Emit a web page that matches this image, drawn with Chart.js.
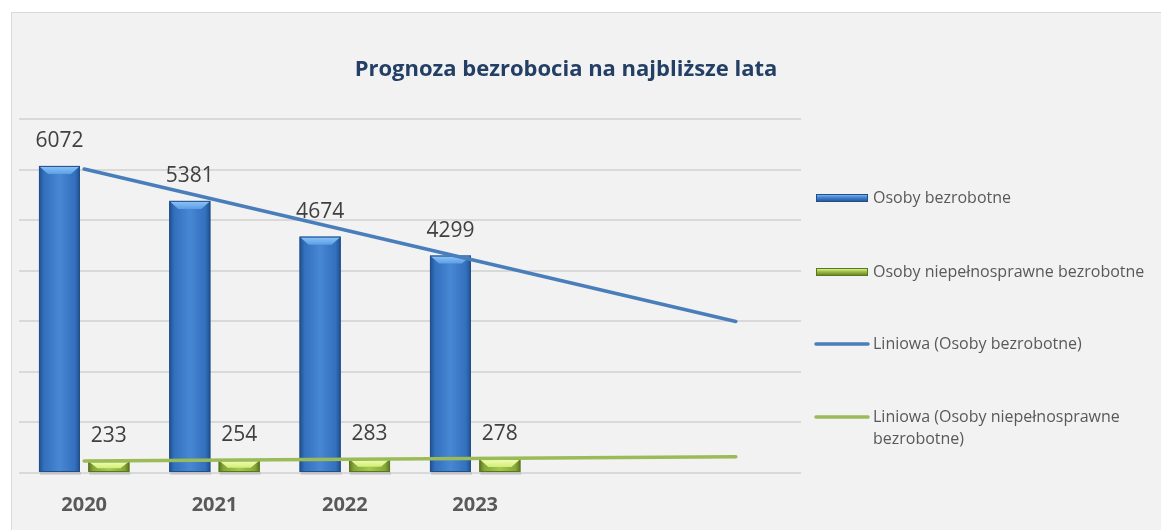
<!DOCTYPE html>
<html><head><meta charset="utf-8">
<script src="https://cdn.jsdelivr.net/npm/chart.js@4.4.0/dist/chart.umd.min.js"></script>
<style>
html,body{margin:0;padding:0;background:#fff;width:1161px;height:530px;overflow:hidden;}
#frame{position:absolute;left:11px;top:12px;width:1200px;height:600px;background:#f2f2f2;border:1.5px solid #d9d9d9;box-sizing:border-box;}
#wrap{position:absolute;left:0;top:0;width:1161px;height:530px;}
</style></head><body>
<div id="frame"></div>
<div id="wrap"><canvas id="c" width="1161" height="530"></canvas></div>
<script>
// ---- data ----
const categories = ['2020', '2021', '2022', '2023', '', ''];
const unemployed = [6072, 5381, 4674, 4299];
const disabledUnemployed = [233, 254, 283, 278];
// trend line end points (first and last category)
const trendUnemployed = [6010, null, null, null, null, 2997];
const trendDisabled = [237, null, null, null, null, 319];
const seriesNames = ['Osoby bezrobotne', 'Osoby niepełnosprawne bezrobotne', 'Liniowa (Osoby bezrobotne)', 'Liniowa (Osoby niepełnosprawne bezrobotne)'];
const legendLines = [['Osoby bezrobotne'], ['Osoby niepełnosprawne bezrobotne'], ['Liniowa (Osoby bezrobotne)'], ['Liniowa (Osoby niepełnosprawne', 'bezrobotne)']];
const titleText = 'Prognoza bezrobocia na najbliższe lata';
const yMin = 0, yMax = 7000, yStep = 1000;

const FONT = "'Open Sans', 'Noto Sans', sans-serif";
const BLUE = {edge:'#214f8c', mid:'#3370bd', light:'#4787d4', top:'#5c9ee6', topLight:'#8fc6f7'};
const GREEN = {edge:'#5b7620', mid:'#86a83a', light:'#a5c94c', top:'#d2ee7a', topLight:'#f3ffb4'};

const bevelPlugin = {
  id: 'bevel',
  afterDatasetDraw(chart, args) {
    const ds = chart.data.datasets[args.index];
    if (ds.type !== 'bar') return;
    const pal = ds.palette;
    const ctx = chart.ctx;
    args.meta.data.forEach((bar, i) => {
      if (ds.data[i] == null) return;
      const p = bar.getProps(['x', 'y', 'base', 'width'], true);
      const l = p.x - p.width / 2, r = p.x + p.width / 2;
      const t = Math.min(p.y, p.base), b = Math.max(p.y, p.base), h = b - t, w = p.width;
      ctx.save();
      ctx.fillStyle = 'rgba(0,0,0,0.10)';
      ctx.fillRect(l + 1, b, w, 3);
      const g = ctx.createLinearGradient(l, 0, r, 0);
      g.addColorStop(0, pal.edge); g.addColorStop(0.12, pal.mid); g.addColorStop(0.5, pal.light);
      g.addColorStop(0.88, pal.mid); g.addColorStop(1, pal.edge);
      ctx.fillStyle = g; ctx.fillRect(l, t, w, h);
      const bv = Math.min(8, h * 0.65), bi = Math.min(9, w * 0.22);
      ctx.beginPath();
      ctx.moveTo(l, t); ctx.lineTo(r, t); ctx.lineTo(r - bi, t + bv); ctx.lineTo(l + bi, t + bv); ctx.closePath();
      const gt = ctx.createLinearGradient(0, t, 0, t + bv);
      gt.addColorStop(0, pal.topLight); gt.addColorStop(1, pal.top);
      ctx.fillStyle = gt; ctx.fill();
      ctx.strokeStyle = pal.edge; ctx.lineWidth = 1;
      ctx.strokeRect(l + 0.5, t + 0.5, w - 1, h - 1);
      ctx.restore();
    });
  }
};

const labelPlugin = {
  id: 'valueLabels',
  afterDatasetsDraw(chart) {
    const ctx = chart.ctx;
    ctx.save();
    ctx.font = '21px ' + FONT; ctx.fillStyle = '#404040';
    ctx.textAlign = 'center'; ctx.textBaseline = 'middle';
    chart.data.datasets.forEach((ds, di) => {
      if (ds.type !== 'bar') return;
      chart.getDatasetMeta(di).data.forEach((bar, i) => {
        if (ds.data[i] == null) return;
        ctx.fillText(String(ds.data[i]), bar.x, bar.y - 25);
      });
    });
    ctx.restore();
  }
};

const titleLegendPlugin = {
  id: 'titleLegend',
  afterDraw(chart) {
    const ctx = chart.ctx, ca = chart.chartArea;
    ctx.save();
    ctx.font = 'bold 22px ' + FONT; ctx.fillStyle = '#243f66';
    ctx.textAlign = 'center'; ctx.textBaseline = 'middle';
    ctx.fillText(titleText, 566, 70);
    const x0 = ca.right + 15, mw = 52, tx = x0 + 57;
    const ys = [ca.top + 79, ca.top + 153, ca.top + 225, ca.top + 298];
    ctx.font = '16px ' + FONT; ctx.textAlign = 'left';
    ys.forEach((y, k) => {
      if (k < 2) {
        const pal = k === 0 ? BLUE : GREEN;
        const g = ctx.createLinearGradient(0, y - 4, 0, y + 4);
        g.addColorStop(0, pal.topLight); g.addColorStop(0.4, pal.light); g.addColorStop(1, pal.edge);
        ctx.fillStyle = g; ctx.fillRect(x0, y - 4, mw, 8);
        ctx.strokeStyle = pal.edge; ctx.lineWidth = 1; ctx.strokeRect(x0 + 0.5, y - 3.5, mw - 1, 7);
      } else {
        ctx.strokeStyle = k === 2 ? '#4a7ebb' : '#9bbb59'; ctx.lineWidth = 3.5; ctx.lineCap = 'round';
        ctx.beginPath(); ctx.moveTo(x0, y); ctx.lineTo(x0 + mw, y); ctx.stroke();
      }
      ctx.fillStyle = '#595959';
      legendLines[k].forEach((ln, j) => ctx.fillText(ln, tx, y + j * 22));
    });
    ctx.restore();
  }
};

new Chart(document.getElementById('c'), {
  type: 'bar',
  data: {
    labels: categories,
    datasets: [
      {type: 'line', label: seriesNames[2], data: trendUnemployed, borderColor: '#4a7ebb', borderWidth: 3.5, borderCapStyle: 'round', pointRadius: 0, spanGaps: true, order: 0},
      {type: 'line', label: seriesNames[3], data: trendDisabled, borderColor: '#9bbb59', borderWidth: 3.5, borderCapStyle: 'round', pointRadius: 0, spanGaps: true, order: 0},
      {type: 'bar', label: seriesNames[0], data: unemployed, backgroundColor: BLUE.mid, palette: BLUE, categoryPercentage: 0.758, barPercentage: 0.83, order: 1},
      {type: 'bar', label: seriesNames[1], data: disabledUnemployed, backgroundColor: GREEN.mid, palette: GREEN, categoryPercentage: 0.758, barPercentage: 0.83, order: 1}
    ]
  },
  options: {
    responsive: false, animation: false, devicePixelRatio: 1,
    layout: {padding: {left: 19, top: 119, right: 360, bottom: 13}},
    plugins: {legend: {display: false}, title: {display: false}, tooltip: {enabled: false}},
    scales: {
      x: {grid: {display: false, drawTicks: false}, border: {display: false},
          ticks: {font: {family: FONT, size: 20, weight: 'bold'}, color: '#595959', padding: 20},
          afterFit(s) { s.height = 44; }},
      y: {min: yMin, max: yMax, ticks: {display: false, stepSize: yStep},
          grid: {color: '#d9d9d9', lineWidth: 2, drawTicks: false}, border: {display: false}}
    }
  },
  plugins: [bevelPlugin, labelPlugin, titleLegendPlugin]
});
</script>
</body></html>
